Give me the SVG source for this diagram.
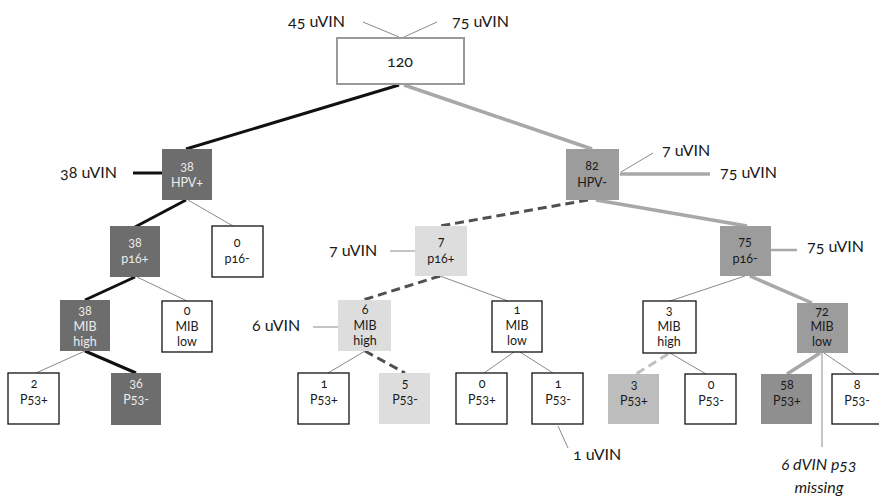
<svg xmlns="http://www.w3.org/2000/svg" width="879" height="499" viewBox="0 0 879 499">
<style>
text{font-family:Lato,"Open Sans","Noto Sans",sans-serif;font-variant-numeric:oldstyle-nums;}
.lbl{font-size:16px;fill:#1a1a1a;}
.it{font-size:16px;fill:#1a1a1a;font-style:italic;text-anchor:middle;}
.bt{font-size:12.5px;text-anchor:middle;fill:#1a1a1a;}
.bt.w{fill:#ececec;}
.wb{fill:#fff;stroke:#111;stroke-width:1.3;}
.dk{fill:#6d6d6d;}
.md{fill:#9c9c9c;}
.md2{fill:#8f8f8f;}
.lt{fill:#dddddd;}
.lt2{fill:#bdbdbd;}
.blk{stroke:#111;stroke-width:3;fill:none;}
.gry{stroke:#a8a8a8;stroke-width:3.5;fill:none;}
.gry2{stroke:#a8a8a8;stroke-width:2.5;fill:none;}
.thin{stroke:#8a8a8a;stroke-width:1;fill:none;}
.dsh{stroke:#505050;stroke-width:3;stroke-dasharray:9,5;fill:none;}
.dshl{stroke:#c0c0c0;stroke-width:3;stroke-dasharray:9,5;fill:none;}
</style>
<rect width="879" height="499" fill="#fff"/>
<g id="connectors">
<line class="thin" x1="363" y1="22" x2="399" y2="37"/>
<line class="thin" x1="437" y1="22" x2="404" y2="37"/>
<line class="blk" x1="399" y1="85" x2="186" y2="149"/>
<line class="gry" x1="404" y1="85" x2="592" y2="149"/>
<line class="blk" x1="133" y1="173" x2="162" y2="173"/>
<line class="blk" x1="186" y1="200" x2="135" y2="227"/>
<line class="thin" x1="188" y1="200" x2="233" y2="226"/>
<line class="blk" x1="135" y1="277" x2="85" y2="300"/>
<line class="thin" x1="137" y1="277" x2="187" y2="301"/>
<line class="thin" x1="85" y1="351" x2="36" y2="373"/>
<line class="blk" x1="85" y1="351" x2="136" y2="373"/>
<line class="dsh" x1="588" y1="200" x2="440" y2="226"/>
<line class="thin" x1="621" y1="172" x2="653" y2="153"/>
<line class="gry" x1="620" y1="174" x2="710" y2="174"/>
<line class="gry" x1="596" y1="200" x2="747" y2="226"/>
<line class="gry2" x1="771" y1="250" x2="797" y2="250"/>
<line class="thin" x1="390" y1="251" x2="415" y2="251"/>
<line class="dsh" x1="440" y1="276" x2="363" y2="300"/>
<line class="thin" x1="440" y1="276" x2="508" y2="301"/>
<line class="thin" x1="313" y1="327" x2="338" y2="327"/>
<line class="thin" x1="365" y1="351" x2="328" y2="373"/>
<line class="dsh" x1="365" y1="351" x2="405" y2="373"/>
<line class="thin" x1="514" y1="352" x2="484" y2="373"/>
<line class="thin" x1="520" y1="352" x2="553" y2="373"/>
<line class="thin" x1="558" y1="426" x2="568" y2="448"/>
<line class="thin" x1="745" y1="276" x2="670" y2="301"/>
<line class="gry" x1="750" y1="276" x2="812" y2="303"/>
<line class="dshl" x1="668" y1="354" x2="636" y2="374"/>
<line class="thin" x1="670" y1="353" x2="706" y2="374"/>
<line class="gry" x1="820" y1="353" x2="787" y2="374"/>
<line class="thin" x1="824" y1="353" x2="855" y2="374"/>
<line class="thin" x1="822" y1="353" x2="822" y2="447"/>
</g>
<g id="labels">
<text class="lbl" x="288" y="27">45 uVIN</text>
<text class="lbl" x="452" y="27">75 uVIN</text>
<text class="lbl" x="60" y="178">38 uVIN</text>
<text class="lbl" x="662" y="156">7 uVIN</text>
<text class="lbl" x="720" y="178">75 uVIN</text>
<text class="lbl" x="807" y="252">75 uVIN</text>
<text class="lbl" x="329" y="256">7 uVIN</text>
<text class="lbl" x="252" y="331">6 uVIN</text>
<text class="lbl" x="573" y="460">1 uVIN</text>
<text class="it" x="819" y="470">6 dVIN p53</text>
<text class="it" x="819" y="493">missing</text>
</g>
<g id="n-root"><rect x="337" y="38" width="127" height="46" fill="#fff" stroke="#9a9a9a" stroke-width="2"/><text class="bt" x="400" y="67" style="font-size:16px">120</text></g>
<g id="n-hpvpos"><rect class="dk" x="162" y="149" width="50" height="51"/><text class="bt w" x="187" y="171">38</text><text class="bt w" x="187" y="187">HPV+</text></g>
<g id="n-hpvneg"><rect class="md" x="566" y="149" width="53" height="51"/><text class="bt" x="592" y="170">82</text><text class="bt" x="592" y="187">HPV-</text></g>
<g id="n-p16pos-a"><rect class="dk" x="110" y="226" width="50" height="51"/><text class="bt w" x="135" y="247">38</text><text class="bt w" x="135" y="263">p16+</text></g>
<g id="n-p16neg-a"><rect class="wb" x="212" y="226" width="51" height="51"/><text class="bt" x="237" y="247">0</text><text class="bt" x="237" y="263">p16-</text></g>
<g id="n-p16pos-b"><rect class="lt" x="415" y="226" width="52" height="50"/><text class="bt" x="441" y="246">7</text><text class="bt" x="441" y="263">p16+</text></g>
<g id="n-p16neg-b"><rect class="md" x="720" y="226" width="51" height="50"/><text class="bt" x="745" y="246">75</text><text class="bt" x="745" y="263">p16-</text></g>
<g id="n-mibh-a"><rect class="dk" x="60" y="300" width="50" height="51"/><text class="bt w" x="85" y="315">38</text><text class="bt w" x="85" y="331">MIB</text><text class="bt w" x="85" y="346">high</text></g>
<g id="n-mibl-a"><rect class="wb" x="162" y="301" width="50" height="51"/><text class="bt" x="187" y="315">0</text><text class="bt" x="187" y="331">MIB</text><text class="bt" x="187" y="346">low</text></g>
<g id="n-mibh-b"><rect class="lt" x="338" y="300" width="53" height="51"/><text class="bt" x="365" y="314">6</text><text class="bt" x="365" y="330">MIB</text><text class="bt" x="365" y="345">high</text></g>
<g id="n-mibl-b"><rect class="wb" x="492" y="301" width="50" height="51"/><text class="bt" x="517" y="314">1</text><text class="bt" x="517" y="330">MIB</text><text class="bt" x="517" y="345">low</text></g>
<g id="n-mibh-c"><rect class="wb" x="643" y="301" width="53" height="52"/><text class="bt" x="669" y="315">3</text><text class="bt" x="669" y="331">MIB</text><text class="bt" x="669" y="346">high</text></g>
<g id="n-mibl-c"><rect class="md" x="797" y="303" width="51" height="50"/><text class="bt" x="822" y="316">72</text><text class="bt" x="822" y="331">MIB</text><text class="bt" x="822" y="346">low</text></g>
<g id="n-p53-1"><rect class="wb" x="8" y="373" width="51" height="51"/><text class="bt" x="34" y="388">2</text><text class="bt" x="34" y="404">P53+</text></g>
<g id="n-p53-2"><rect class="dk" x="111" y="373" width="50" height="52"/><text class="bt w" x="136" y="388">36</text><text class="bt w" x="136" y="404">P53-</text></g>
<g id="n-p53-3"><rect class="wb" x="298" y="373" width="51" height="51"/><text class="bt" x="324" y="388">1</text><text class="bt" x="324" y="404">P53+</text></g>
<g id="n-p53-4"><rect class="lt" x="379" y="373" width="51" height="51"/><text class="bt" x="405" y="388">5</text><text class="bt" x="405" y="404">P53-</text></g>
<g id="n-p53-5"><rect class="wb" x="456" y="373" width="51" height="51"/><text class="bt" x="482" y="388">0</text><text class="bt" x="482" y="404">P53+</text></g>
<g id="n-p53-6"><rect class="wb" x="532" y="373" width="51" height="51"/><text class="bt" x="558" y="388">1</text><text class="bt" x="558" y="404">P53-</text></g>
<g id="n-p53-7"><rect class="lt2" x="608" y="374" width="51" height="50"/><text class="bt" x="634" y="389">3</text><text class="bt" x="634" y="405">P53+</text></g>
<g id="n-p53-8"><rect class="wb" x="685" y="374" width="51" height="50"/><text class="bt" x="711" y="389">0</text><text class="bt" x="711" y="405">P53-</text></g>
<g id="n-p53-9"><rect class="md2" x="761" y="374" width="51" height="50"/><text class="bt" x="787" y="389">58</text><text class="bt" x="787" y="405">P53+</text></g>
<g id="n-p53-10"><rect class="wb" x="832" y="374" width="50" height="50"/><text class="bt" x="857" y="389">8</text><text class="bt" x="857" y="405">P53-</text></g>
</svg>
